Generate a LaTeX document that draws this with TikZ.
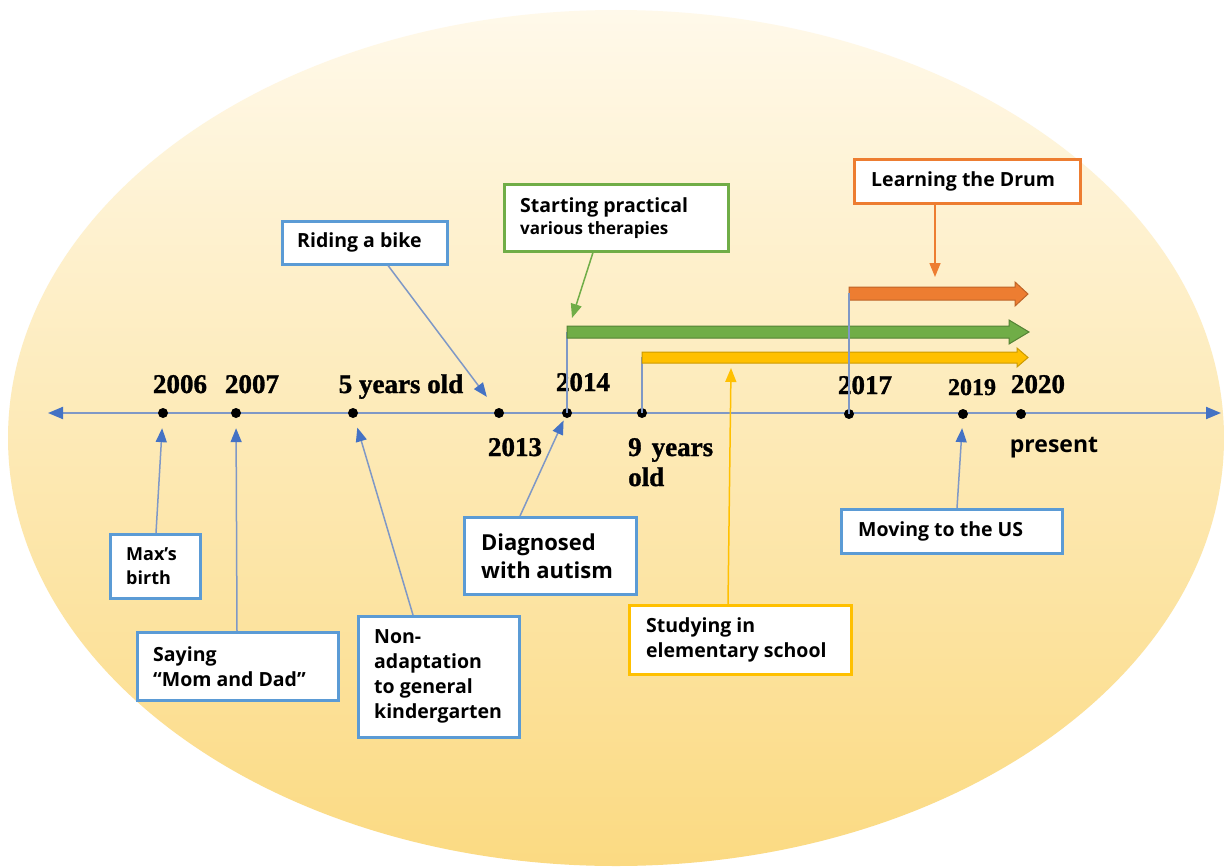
\documentclass[tikz,border=0pt]{standalone}
\usepackage{fontspec}
\setmainfont{Liberation Serif}[FakeBold=1.2]
\setsansfont{Open Sans}
\usetikzlibrary{arrows.meta}
\definecolor{tl}{HTML}{7F98C6}
\definecolor{tipc}{HTML}{4472C4}
\definecolor{bbox}{HTML}{5B9BD5}
\definecolor{gbox}{HTML}{70AD47}
\definecolor{obox}{HTML}{ED7D31}
\definecolor{ybox}{HTML}{FFC000}
\definecolor{bgtop}{HTML}{FFF9EA}
\definecolor{bgmid}{HTML}{FDEBB8}
\definecolor{bgbot}{HTML}{FBDA82}
\begin{document}
\begin{tikzpicture}[x=1pt,y=-1pt,
  box/.style={draw=bbox, fill=white, line width=2.5pt, inner sep=0pt, anchor=north west},
  txt/.style={font=\sffamily\bfseries\fontsize{19.5}{25}\selectfont, align=left, inner sep=0pt, anchor=west},
  yr/.style={font=\bfseries\fontsize{27}{30}\selectfont, inner sep=0pt, anchor=base},
  dot/.style={circle, fill=black, inner sep=0pt, minimum size=10pt},
  conn/.style={draw=tl, line width=1.5pt, -{Triangle[length=14pt,width=11pt,color=tipc]}},
  vline/.style={draw=tl, line width=1.5pt},
  tline/.style={draw=tl, line width=2pt, {Triangle[length=15pt,width=12pt,color=tipc]}-{Triangle[length=15pt,width=12pt,color=tipc]}}
]
\useasboundingbox (0,0) rectangle (1226,867);
\fill[white] (0,0) rectangle (1226,867);
\shade[top color=bgtop, middle color=bgmid, bottom color=bgbot] (616,438) ellipse [x radius=608, y radius=428];

% timeline
\coordinate (tlL) at (48,413);
\coordinate (tlR) at (1221,413);
\draw[tline] (tlL) -- (tlR);

% dots
\node[dot] (d2006) at (163,413) {};
\node[dot] (d2007) at (236,413) {};
\node[dot] (d5yo) at (353,413) {};
\node[dot] (d2013) at (499,413) {};
\node[dot] (d2014) at (567,413) {};
\node[dot] (d9yo) at (642,413) {};
\node[dot] (d2017) at (849,414) {};
\node[dot] (d2019) at (963,414) {};
\node[dot] (d2020) at (1021,414) {};

% year labels
\node[yr] (l2006) at (180,393) {2006};
\node[yr] (l2007) at (252,393) {2007};
\node[yr] (l5yo) at (401,393) {5 years old};
\node[yr] (l2014) at (583,391) {2014};
\node[yr] (l2013) at (515,456) {2013};
\node[yr, anchor=base west] (l9yo) at (628,456) {9\hspace{10pt}years};
\node[yr, anchor=base west] (l9old) at (628,486) {old};
\node[yr] (l2017) at (865,394) {2017};
\node[yr, font=\bfseries\fontsize{24}{26}\selectfont] (l2019) at (972,395) {2019};
\node[yr] (l2020) at (1038,393) {2020};
\node[yr, font=\sffamily\bfseries\fontsize{23}{26}\selectfont] (lpres) at (1054,452) {present};

% vertical lines from bars
\coordinate (gs) at (567,332);
\coordinate (ys) at (642,357);
\coordinate (os) at (849,293);
\draw[vline] (d2014.center) -- (gs);
\draw[vline] (d9yo.center) -- (ys);

% bars
\filldraw[fill=gbox, draw=gbox!75!black, line width=1pt] (567,326) -- (1009,326) -- (1009,320) -- (1029,332) -- (1009,344) -- (1009,338) -- (567,338) -- cycle;
\filldraw[fill=ybox, draw=ybox!80!black, line width=1pt] (642,352) -- (1017,352) -- (1017,348) -- (1028,357.5) -- (1017,367) -- (1017,363) -- (642,363) -- cycle;
\filldraw[fill=obox, draw=obox!80!black, line width=1pt] (849,287) -- (1015,287) -- (1015,282) -- (1028,294) -- (1015,306) -- (1015,300) -- (849,300) -- cycle;
\draw[vline] (d2017.center) -- (os);

% boxes
\node[box, minimum width=165pt, minimum height=43pt] (ride) at (281,220) {};
\node[txt] (rideT) at ([xshift=16pt]ride.west) {Riding a bike};

\node[box, draw=gbox, minimum width=224pt, minimum height=67pt] (sp) at (503,183) {};
\node[txt] (spT) at ([xshift=17pt]sp.west) {Starting practical\\[-3pt]{\fontsize{17}{22}\selectfont various therapies}};

\node[box, draw=obox, minimum width=226pt, minimum height=44pt] (ld) at (853,158) {};
\node[txt] (ldT) at ([xshift=18pt]ld.west) {Learning the Drum};

\node[box, minimum width=90pt, minimum height=64pt] (mb) at (109,533) {};
\node[txt, font=\sffamily\bfseries\fontsize{18}{24}\selectfont] (mbT) at ([xshift=17pt]mb.west) {Max’s\\birth};

\node[box, minimum width=201pt, minimum height=68pt] (say) at (136,631) {};
\node[txt] (sayT) at ([xshift=17pt]say.west) {Saying\\“Mom and Dad”};

\node[box, minimum width=161pt, minimum height=121pt] (na) at (357,615) {};
\node[txt] (naT) at ([xshift=17pt]na.west) {Non-\\adaptation\\to general\\kindergarten};

\node[box, minimum width=172pt, minimum height=77pt] (dg) at (463,516) {};
\node[txt, font=\sffamily\bfseries\fontsize{22}{28}\selectfont] (dgT) at ([xshift=18pt]dg.west) {Diagnosed\\with autism};

\node[box, draw=ybox, minimum width=222pt, minimum height=69pt] (st) at (628,604) {};
\node[txt] (stT) at ([xshift=18pt]st.west) {Studying in\\elementary school};

\node[box, minimum width=221pt, minimum height=44pt] (mv) at (840,508) {};
\node[txt] (mvT) at ([xshift=18pt]mv.west) {Moving to the US};

% connectors
\draw[conn, shorten >=10pt] ([xshift=47pt]mb.north west) -- (d2006);
\draw[conn, shorten >=10pt] ([xshift=101pt]say.north west) -- (d2007);
\draw[conn, shorten >=10pt] ([xshift=56pt]na.north west) -- (d5yo);
\draw[conn, shorten >=15pt] ([xshift=107pt]ride.south west) -- (d2013);
\draw[conn, shorten >=3pt] ([xshift=57pt]dg.north west) -- (d2014);
\draw[conn, shorten >=9pt] ([xshift=117pt]mv.north west) -- (d2019);

\coordinate (gtip) at (572,318);
\coordinate (otip) at (935,277);
\coordinate (ytip) at (731,368);
\draw[conn, draw=gbox, -{Triangle[length=14pt,width=11pt,color=gbox]}] ([xshift=90pt]sp.south west) -- (gtip);
\draw[conn, draw=obox, -{Triangle[length=14pt,width=11pt,color=obox]}] ([xshift=82pt]ld.south west) -- (otip);
\draw[conn, draw=ybox, -{Triangle[length=14pt,width=11pt,color=ybox]}] ([xshift=100pt]st.north west) -- (ytip);
\end{tikzpicture}
\end{document}
